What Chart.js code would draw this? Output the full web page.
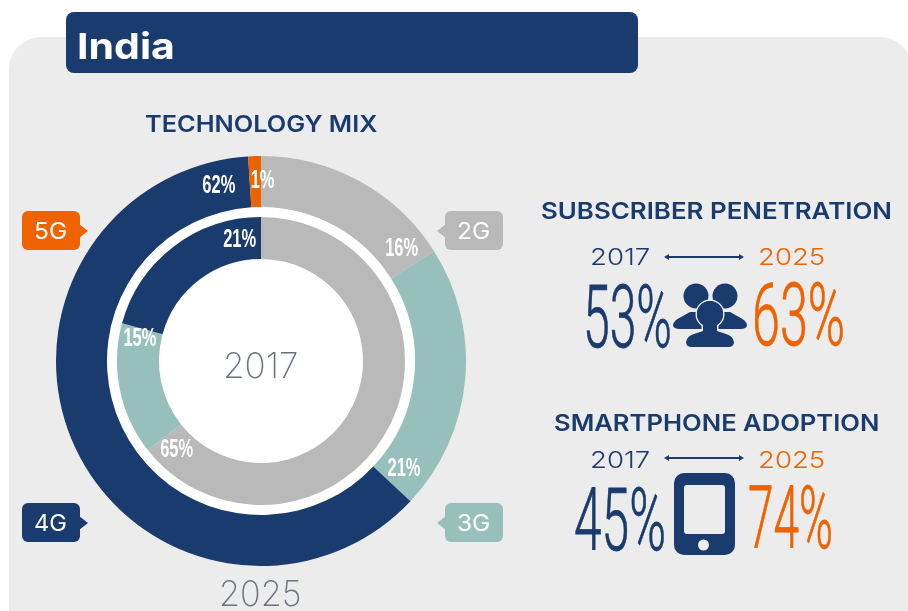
<!DOCTYPE html>
<html lang="en">
<head>
  <meta charset="UTF-8" />
  <title>India</title>
  <script src="https://cdn.jsdelivr.net/npm/chart.js"></script>
  <style>
    html, body { margin: 0; height: 100%; background: #fff; overflow: hidden; }
    #stage { position: relative; width: 908px; height: 611px; overflow: hidden; font-family: Inter, "Open Sans", sans-serif; }
    #panel { position: absolute; left: 9px; top: 37px; width: 903px; height: 620px; background: #ececec; border-radius: 32px; }
    #header { position: absolute; left: 66px; top: 12px; width: 572px; height: 61px; background: #1a3b6d; border-radius: 8px; }
    #donut { position: absolute; left: 56px; top: 156px; }
    #icons { position: absolute; left: 0; top: 0; }
    .txt { position: absolute; white-space: nowrap; line-height: 1; transform-origin: left center; }
    .big { -webkit-text-stroke: 0.8px currentColor; }
    .tag { position: absolute; width: 58px; height: 39px; border-radius: 6px; }
    .tag::after { content: ""; position: absolute; top: 13px; border: 7px solid transparent; }
    .tag.left::after { left: 100%; margin-left: -1px; border-left-width: 9px; border-right-width: 0; border-left-color: inherit; }
    .tag.right::after { right: 100%; margin-right: -1px; border-right-width: 9px; border-left-width: 0; border-right-color: inherit; }
  </style>
</head>
<body>
  <div id="stage">
    <div id="panel"></div>
    <div id="header"></div>
    <canvas id="donut" width="410" height="410"></canvas>
    <svg id="icons" width="908" height="611">
      <!-- flechas 2017 - 2025 -->
      <g stroke="#1a3b6d" stroke-width="2" fill="#1a3b6d">
        <line x1="666" y1="257" x2="742" y2="257" />
        <path d="M664 257 l5 -3 v6 z M744 257 l-5 -3 v6 z" stroke="none" />
        <line x1="666" y1="458" x2="742" y2="458" />
        <path d="M664 458 l5 -3 v6 z M744 458 l-5 -3 v6 z" stroke="none" />
      </g>
      <!-- personas -->
      <g fill="#1a3b6d">
        <circle cx="696" cy="296" r="12.5" />
        <circle cx="725" cy="296" r="12.5" />
        <path d="M680 329 q-7 0 -7 -4 q1 -5 8 -8 l9 -5 h12 l8 8 v9 z" />
        <path d="M740 329 q7 0 7 -4 q-1 -5 -8 -8 l-9 -5 h-12 l-8 8 v9 z" />
        <g stroke="#ececec" stroke-width="3" paint-order="stroke">
          <circle cx="710" cy="314" r="13" />
          <path d="M692 347 q-6 0 -6 -5 q1 -6 8 -8 l9 -3 v-6 h14 v6 l9 3 q7 2 8 8 q0 5 -6 5 z" />
        </g>
        <circle cx="710" cy="314" r="13" />
      </g>
      <!-- telefono -->
      <rect x="674" y="473" width="61" height="82" rx="10" fill="#1a3b6d" />
      <rect x="684" y="485" width="41" height="49" rx="3" fill="#ececec" />
      <circle cx="703.5" cy="545" r="5.5" fill="#ececec" />
    </svg>
  </div>

  <script>
    const categories = ['2G', '3G', '4G', '5G'];
    const mix2025 = [16, 21, 62, 1];
    const mix2017 = [65, 15, 21, 0];
    const colores = ['#b9b9b9', '#97c0bd', '#1a3b6d', '#ee6200'];

    const yearFrom = '2017';
    const yearTo = '2025';
    const penetration = [53, 63];
    const adoption = [45, 74];

    // grados que retrocede cada etiqueta desde el final de su arco
    const backOuter = [6, 6, 10, -0.5];
    const backInner = [8.4, 5, 10, 0];

    const NAVY = '#1a3b6d';
    const ORANGE = '#ee6200';
    const stage = document.getElementById('stage');

    // texto real, ajustado en ancho con scaleX entre x0 y x1
    function put(text, x0, x1, cy, size, weight, color, family) {
      const el = document.createElement('div');
      el.className = 'txt';
      el.textContent = text;
      el.style.fontSize = size + 'px';
      el.style.fontWeight = weight;
      el.style.color = color;
      if (family) el.style.fontFamily = family;
      stage.appendChild(el);
      const w = el.offsetWidth;
      el.style.left = x0 + 'px';
      el.style.top = (cy - el.offsetHeight / 2) + 'px';
      el.style.transform = `scaleX(${(x1 - x0) / w})`;
      return el;
    }

    function putBig(value, x0, x1, cy, color) {
      put(value + '%', x0, x1, cy, 87, 300, color, 'Roboto').classList.add('big');
    }

    function addTag(label, x, y, color, side) {
      const t = document.createElement('div');
      t.className = 'tag ' + side;
      t.style.left = x + 'px';
      t.style.top = y + 'px';
      t.style.background = color;
      t.style.borderColor = color;
      stage.appendChild(t);
      put(label, x + 12, x + 45, y + 20, 23, 400, '#fff');
    }

    put('India', 77, 175, 46, 36, 700, '#fff');
    put('TECHNOLOGY MIX', 145, 377, 124, 23, 600, NAVY);
    put('SUBSCRIBER PENETRATION', 541, 892, 211, 23, 600, NAVY);
    put('SMARTPHONE ADOPTION', 554, 880, 423, 23, 600, NAVY);

    put(yearFrom, 590, 650, 257, 23, 300, NAVY);
    put(yearTo, 758, 825, 257, 23, 300, ORANGE);
    put(yearFrom, 590, 650, 460, 23, 300, NAVY);
    put(yearTo, 758, 825, 460, 23, 300, ORANGE);

    putBig(penetration[0], 583, 672, 317, NAVY);
    putBig(penetration[1], 752, 845, 315, ORANGE);
    putBig(adoption[0], 574, 666, 520, NAVY);
    putBig(adoption[1], 748, 833, 518, ORANGE);

    put(yearFrom, 223, 298, 365, 35, 200, '#6b7280');
    put(yearTo, 219, 302, 593, 35, 200, '#6b7280');

    addTag('5G', 22, 211, ORANGE, 'left');
    addTag('4G', 22, 503, NAVY, 'left');
    addTag('2G', 445, 211, colores[0], 'right');
    addTag('3G', 445, 503, colores[1], 'right');

    // disco blanco detras de los anillos
    const whiteDisc = {
      id: 'whiteDisc',
      beforeDatasetsDraw(chart) {
        const arc = chart.getDatasetMeta(0).data[0];
        const ctx = chart.ctx;
        ctx.save();
        ctx.fillStyle = '#fff';
        ctx.beginPath();
        ctx.arc(arc.x, arc.y, arc.innerRadius + 0.5, 0, Math.PI * 2);
        ctx.fill();
        ctx.restore();
      }
    };

    const ringLabels = {
      id: 'ringLabels',
      afterDatasetsDraw(chart) {
        const ctx = chart.ctx;
        [[0, backOuter], [2, backInner]].forEach(([idx, back]) => {
          chart.getDatasetMeta(idx).data.forEach((arc, i) => {
            const value = chart.data.datasets[idx].data[i];
            if (!value) return;
            const ang = arc.endAngle - back[i] * Math.PI / 180;
            const r = (arc.innerRadius + arc.outerRadius) / 2;
            ctx.save();
            ctx.translate(arc.x + Math.cos(ang) * r, arc.y + Math.sin(ang) * r);
            ctx.scale(0.66, 1);
            ctx.font = 'bold 25px "Liberation Sans"';
            ctx.fillStyle = '#fff';
            ctx.textAlign = 'center';
            ctx.textBaseline = 'middle';
            ctx.fillText(value + '%', 0, 0);
            ctx.restore();
          });
        });
      }
    };

    new Chart(document.getElementById('donut'), {
      type: 'doughnut',
      data: {
        labels: categories,
        datasets: [
          { label: yearTo, data: mix2025, backgroundColor: colores, borderWidth: 0, weight: 51 },
          { label: 'gap', data: [1], backgroundColor: 'transparent', borderWidth: 0, weight: 10 },
          { label: yearFrom, data: mix2017, backgroundColor: colores, borderWidth: 0, weight: 42 }
        ]
      },
      options: {
        responsive: false,
        animation: false,
        cutout: '49.76%',
        layout: { padding: 0 },
        plugins: { legend: { display: false }, tooltip: { enabled: false } }
      },
      plugins: [whiteDisc, ringLabels]
    });
  </script>
</body>
</html>
